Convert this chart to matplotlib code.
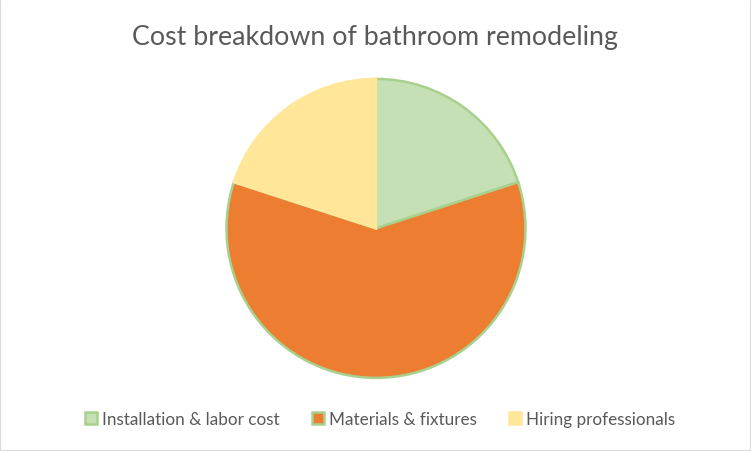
import matplotlib
matplotlib.use("Agg")
import matplotlib.pyplot as plt
from matplotlib.patches import Rectangle

plt.rcParams["font.family"] = ["Lato", "DejaVu Sans"]

categories = ["Installation & labor cost", "Materials & fixtures", "Hiring professionals"]
shares = [20, 60, 20]
colors = ["#C5E0B4", "#ED7D31", "#FFE699"]
edge_colors = ["#A9D18E", "#A9D18E", "#FFE699"]

fig = plt.figure(figsize=(7.51, 4.52), dpi=100)
fig.patches.append(Rectangle((0, 0), 1, 1, transform=fig.transFigure,
                             fill=False, edgecolor="#D9D9D9", linewidth=1.5))

ax = fig.add_axes([0.2996, 0.157, 0.4021, 0.671])
wedges, _ = ax.pie(shares, colors=colors, startangle=90, counterclock=False,
                   radius=1.0)
for w, ec in zip(wedges, edge_colors):
    w.set_edgecolor(ec)
    w.set_linewidth(1.8)
ax.set_xlim(-1.01, 1.01)
ax.set_ylim(-1.01, 1.01)
ax.set_aspect("equal")

fig.text(0.5, 1 - 37 / 452, "Cost breakdown of bathroom remodeling",
         ha="center", va="center", fontsize=19.3, color="#595959")

fig.legend(wedges, categories, loc="center", bbox_to_anchor=(0.506, 1 - 420 / 452),
           ncol=3, frameon=False, fontsize=12.3, labelcolor="#595959",
           handlelength=0.7, handleheight=0.7, handletextpad=0.3,
           columnspacing=1.9)

fig.savefig("out.png", dpi=100)
